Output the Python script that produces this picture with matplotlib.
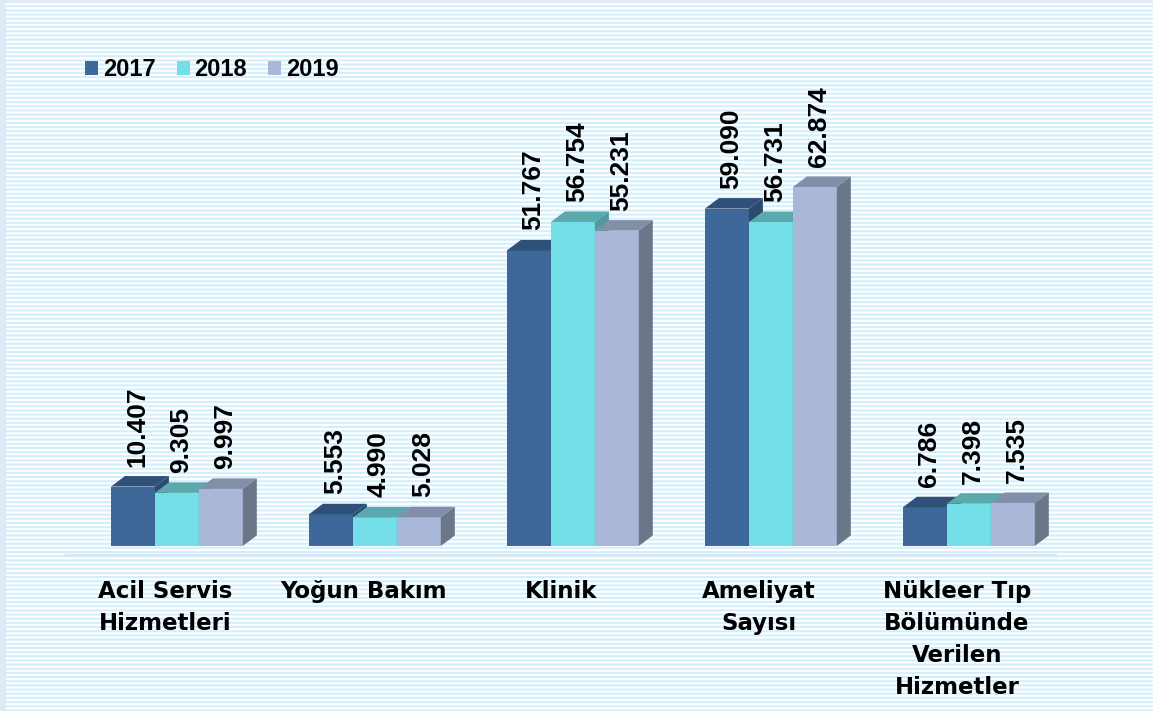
import numpy as np
import matplotlib
matplotlib.use('Agg')
import matplotlib.pyplot as plt
from matplotlib.patches import Rectangle, Polygon, Patch

# Данные
categories = ['Acil Servis\nHizmetleri', 'Yoğun Bakım', 'Klinik', 'Ameliyat\nSayısı',
              'Nükleer Tıp\nBölümünde\nVerilen\nHizmetler']
years = ['2017', '2018', '2019']
v2017 = [10407, 5553, 51767, 59090, 6786]
v2018 = [9305, 4990, 56754, 56731, 7398]
v2019 = [9997, 5028, 55231, 62874, 7535]
series = [v2017, v2018, v2019]

front_colors = ['#3e6899', '#74dfe8', '#a9b8d8']
top_colors = ['#2f5079', '#5ba9ac', '#838ea8']
side_colors = ['#2b4a6f', '#4e9ba0', '#6b7689']

plt.rcParams['hatch.linewidth'] = 1.5

W, H = 1153, 711
fig = plt.figure(figsize=(W / 100, H / 100), dpi=100, facecolor='#e0eaf7')

# фон в полоску
bg = Rectangle((6 / W, 0), 1 - 6 / W, 1 - 3 / H, transform=fig.transFigure,
               facecolor='white', edgecolor='#d2effb', hatch='----', lw=0, zorder=-10)
fig.patches.append(bg)

ax_left, ax_bottom, ax_w, ax_h = 66 / W, 156 / H, 990 / W, 408.7 / H
ax = fig.add_axes([ax_left, ax_bottom, ax_w, ax_h])
ax.set_facecolor('none')
x0, x1 = -0.5, 4.5
y0, y1 = -1580, 70000
ax.set_xlim(x0, x1)
ax.set_ylim(y0, y1)

# смещение глубины 3D
dx = 14 * (x1 - x0) / (ax_w * W)
dy = 10.5 * (y1 - y0) / (ax_h * H)

x = np.arange(len(categories))
bw = 0.222
shift = 0.06

for j, vals in enumerate(series):
    xs = x + shift + (j - 1) * bw
    z = 2 + j * 3
    ax.bar(xs, vals, width=bw, color=front_colors[j], zorder=z, linewidth=0)
    for xc, v in zip(xs, vals):
        l, r = xc - bw / 2, xc + bw / 2
        top = Polygon([(l, v), (r, v), (r + dx, v + dy), (l + dx, v + dy)],
                      closed=True, facecolor=top_colors[j], lw=0, zorder=z + 1)
        side = Polygon([(r, 0), (r + dx, dy), (r + dx, v + dy), (r, v)],
                       closed=True, facecolor=side_colors[j], lw=0, zorder=z + 2)
        ax.add_patch(top)
        ax.add_patch(side)
        ax.annotate(f'{v:,}'.replace(',', '.'), (xc, v), xytext=(4, 20),
                    textcoords='offset pixels', rotation=90, ha='center', va='bottom',
                    fontsize=19, fontweight='bold', family='Liberation Sans',
                    color='black', zorder=20)

ax.set_xticks(x)
ax.set_xticklabels(categories, fontsize=16.5, fontweight='bold', family='DejaVu Sans',
                   linespacing=1.5)
ax.tick_params(axis='x', length=0, pad=18)
ax.set_yticks([])
for s in ['top', 'right', 'left']:
    ax.spines[s].set_visible(False)
ax.spines['bottom'].set_color('#dde5f1')
ax.spines['bottom'].set_linewidth(1.6)

handles = [Patch(facecolor=c, lw=0) for c in front_colors]
fig.legend(handles, years, loc='center left', bbox_to_anchor=(85 / W, 1 - 70 / H),
           ncol=3, frameon=False, prop={'family': 'Liberation Sans', 'weight': 'bold', 'size': 17},
           handlelength=0.55, handleheight=0.55, handletextpad=0.2, columnspacing=0.9,
           borderpad=0, borderaxespad=0)

fig.savefig('out.png', dpi=100)
